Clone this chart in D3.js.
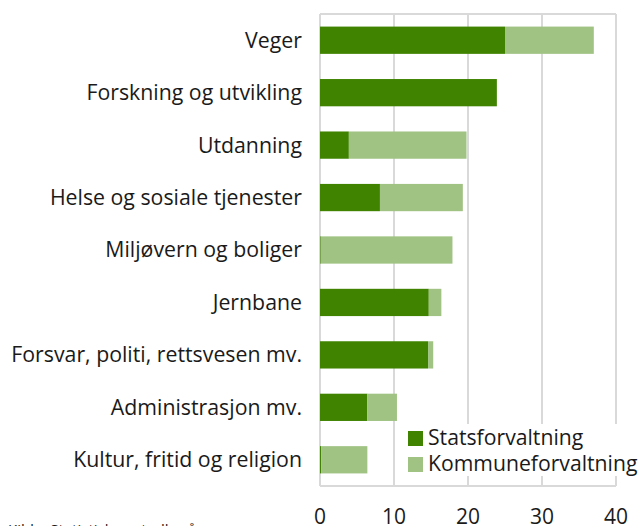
<!DOCTYPE html>
<html>
<head>
<meta charset="utf-8">
<script src="https://cdn.jsdelivr.net/npm/d3@7"></script>
<style>
  body { margin: 0; background: #fff; }
  svg { display: block; font-family: "Open Sans", sans-serif; }
</style>
</head>
<body>
<svg id="svg" width="643" height="526"></svg>
<script>
var categories = ["Veger", "Forskning og utvikling", "Utdanning", "Helse og sosiale tjenester",
    "Miljøvern og boliger", "Jernbane", "Forsvar, politi, rettsvesen mv.",
    "Administrasjon mv.", "Kultur, fritid og religion"]
var stats = [25.0, 23.9, 3.9, 8.1, 0.1, 14.7, 14.6, 6.4, 0.15]
var kommune = [12.0, 0, 15.9, 11.2, 17.8, 1.7, 0.7, 4.0, 6.25]
var seriesNames = ["Statsforvaltning", "Kommuneforvaltning"]
var colors = ["#3f8300", "#a0c383"]
var ticks = [0, 10, 20, 30, 40]

var svg = d3.select("#svg"),
    margin = { top: 14, right: 27, bottom: 40, left: 320 },
    width = +svg.attr("width") - margin.left - margin.right,
    height = +svg.attr("height") - margin.top - margin.bottom

var g = svg.append("g").attr("transform", translate(margin.left, margin.top))

var x = d3.scaleLinear().domain([0, 40]).range([0, width])
var y = d3.scaleBand().domain(categories).range([0, height]).paddingInner(0.48).paddingOuter(0.24)

// grid + frame
g.selectAll(".grid").data(ticks).enter().append("line")
    .attr("x1", d => x(d)).attr("x2", d => x(d))
    .attr("y1", 0).attr("y2", height)
    .attr("stroke", "#d9d9d9").attr("stroke-width", 2)
g.append("line").attr("x1", 0).attr("x2", width).attr("y1", 0).attr("y2", 0)
    .attr("stroke", "#d9d9d9").attr("stroke-width", 2)
g.append("line").attr("x1", 0).attr("x2", width).attr("y1", height).attr("y2", height)
    .attr("stroke", "#d9d9d9").attr("stroke-width", 2)

var rows = categories.map((c, i) => ({ key: c, s: stats[i], k: kommune[i] }))
var stacked = d3.stack().keys(["s", "k"])(rows)

g.selectAll(".series").data(stacked).enter().append("g")
    .attr("fill", (d, i) => colors[i])
    .selectAll("rect").data(d => d).enter().append("rect")
    .attr("x", d => x(d[0]))
    .attr("width", d => x(d[1]) - x(d[0]))
    .attr("y", d => y(d.data.key))
    .attr("height", y.bandwidth())

// category labels
g.selectAll(".cat").data(categories).enter().append("text")
    .attr("x", -18)
    .attr("y", d => y(d) + y.bandwidth() / 2)
    .attr("dy", "0.35em")
    .attr("text-anchor", "end")
    .attr("font-size", 21.3)
    .attr("fill", "#1a1a1a")
    .text(d => d)

// x tick labels
g.selectAll(".tick").data(ticks).enter().append("text")
    .attr("x", d => x(d))
    .attr("y", height + 38)
    .attr("text-anchor", "middle")
    .attr("font-size", 21)
    .attr("fill", "#1a1a1a")
    .text(d => d)

// legend
var lg = svg.append("g").attr("transform", translate(404, 424))
lg.append("rect").attr("width", 239).attr("height", 52).attr("fill", "#fff")
seriesNames.forEach(function (n, i) {
    lg.append("rect").attr("x", 4).attr("y", 7 + i * 26).attr("width", 15).attr("height", 15)
        .attr("fill", colors[i])
    lg.append("text").attr("x", 24).attr("y", 21 + i * 26)
        .attr("font-size", 21.2).attr("fill", "#1a1a1a").text(n)
})

// source (cut off at bottom)
svg.append("text").attr("x", 8).attr("y", 535).attr("font-size", 15)
    .attr("fill", "#1a1a1a").text("Kilde: Statistisk sentralbyrå")

function translate(x, y) {
    return "translate(" + x + "," + y + ")"
}
</script>
</body>
</html>
